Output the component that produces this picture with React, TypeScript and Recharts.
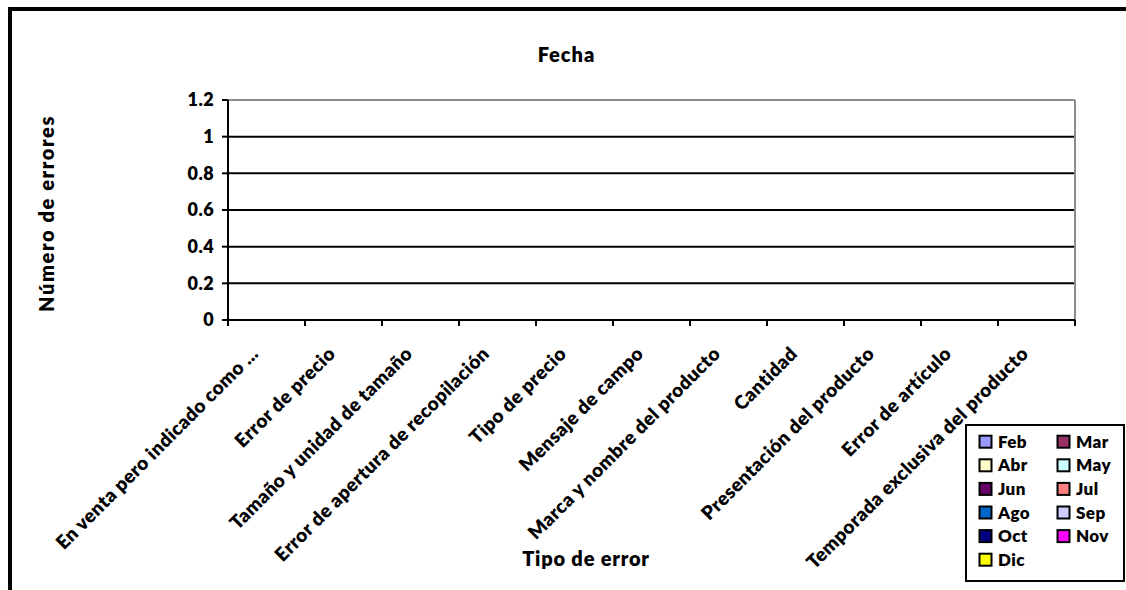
import { Bar, BarChart, CartesianGrid, ReferenceLine, XAxis, YAxis } from "recharts";

const categories = [
  "En venta pero indicado como ...",
  "Error de precio",
  "Tamaño y unidad de tamaño",
  "Error de apertura de recopilación",
  "Tipo de precio",
  "Mensaje de campo",
  "Marca y nombre del producto",
  "Cantidad",
  "Presentación del producto",
  "Error de artículo",
  "Temporada exclusiva del producto",
];

const months = ["Feb", "Mar", "Abr", "May", "Jun", "Jul", "Ago", "Sep", "Oct", "Nov", "Dic"];
const monthColors = [
  "#9999FF", "#993366", "#FFFFCC", "#CCFFFF", "#660066", "#FF8080",
  "#0066CC", "#CCCCFF", "#000080", "#FF00FF", "#FFFF00",
];

// every cell in the source sheet is empty
const feb = [null, null, null, null, null, null, null, null, null, null, null];
const mar = [null, null, null, null, null, null, null, null, null, null, null];
const abr = [null, null, null, null, null, null, null, null, null, null, null];
const may = [null, null, null, null, null, null, null, null, null, null, null];
const jun = [null, null, null, null, null, null, null, null, null, null, null];
const jul = [null, null, null, null, null, null, null, null, null, null, null];
const ago = [null, null, null, null, null, null, null, null, null, null, null];
const sep = [null, null, null, null, null, null, null, null, null, null, null];
const oct = [null, null, null, null, null, null, null, null, null, null, null];
const nov = [null, null, null, null, null, null, null, null, null, null, null];
const dic = [null, null, null, null, null, null, null, null, null, null, null];
const monthValues = [feb, mar, abr, may, jun, jul, ago, sep, oct, nov, dic];

const yTicks = [0, 0.2, 0.4, 0.6, 0.8, 1, 1.2];

const data = categories.map((name, i) => {
  const row: Record<string, string | number | null> = { name };
  months.forEach((m, j) => {
    row[m] = monthValues[j][i];
  });
  return row;
});

const FONT = "Lato, 'Noto Sans', sans-serif";
const W = 1126;
const H = 590;
const MARGIN = { top: 100, right: 51, left: 168, bottom: 40 };
const Y_AXIS_W = 60;
const PLOT_W = W - MARGIN.left - Y_AXIS_W - MARGIN.right;
const BAND = PLOT_W / categories.length;

if (typeof document !== "undefined") {
  document.body.style.margin = "0";
  document.body.style.overflow = "hidden";
  document.documentElement.style.overflow = "hidden";
}

// Excel puts the x tick marks between categories, so draw them here
function CategoryTick(props: any) {
  const { x, y, payload, index } = props;
  const axisY = y - 8;
  const last = index === categories.length - 1;
  return (
    <g>
      <line x1={x - BAND / 2} x2={x - BAND / 2} y1={axisY} y2={axisY + 6} stroke="#000" strokeWidth={2} />
      {last && (
        <line x1={x + BAND / 2} x2={x + BAND / 2} y1={axisY} y2={axisY + 6} stroke="#000" strokeWidth={2} />
      )}
      <g transform={`translate(${x - 7},${y + 27})`}>
        <text
          textAnchor="end"
          transform="rotate(-45)"
          fill="#000"
          fontFamily={FONT}
          fontWeight={800}
          fontSize={19}
          letterSpacing={0.4}
        >
          {payload.value}
        </text>
      </g>
    </g>
  );
}

export default function App() {
  return (
    <div style={{ position: "relative", width: W, height: H, overflow: "hidden", fontFamily: FONT }}>
      <div
        style={{
          position: "absolute",
          left: 8,
          top: 7,
          width: W + 40,
          height: H + 40,
          borderTop: "4px solid #000",
          borderLeft: "4px solid #000",
        }}
      />
      <div style={{ position: "absolute", left: 0, top: 0 }}>
        <BarChart width={W} height={H} data={data} margin={MARGIN} barCategoryGap="20%">
          <CartesianGrid vertical={false} stroke="#000" strokeWidth={2} />
          <CartesianGrid
            horizontal={false}
            verticalCoordinatesGenerator={({ offset }: any) => [offset.left + offset.width]}
            stroke="#8c8c8c"
            strokeWidth={2}
          />
          <XAxis
            dataKey="name"
            interval={0}
            height={230}
            tick={<CategoryTick />}
            tickSize={6}
            axisLine={{ stroke: "#000", strokeWidth: 2 }}
            tickLine={false}
          />
          <YAxis
            width={Y_AXIS_W}
            domain={[0, 1.2]}
            allowDataOverflow
            ticks={yTicks}
            interval={0}
            tickSize={6}
            tickMargin={8}
            tickFormatter={(v) => String(v)}
            tick={{ fill: "#000", fontFamily: FONT, fontWeight: 800, fontSize: 18, letterSpacing: 0.4 }}
            axisLine={{ stroke: "#000", strokeWidth: 2 }}
            tickLine={{ stroke: "#000", strokeWidth: 2 }}
          />
          <ReferenceLine y={1.2} stroke="#8c8c8c" strokeWidth={2} />
          {months.map((m, j) => (
            <Bar
              key={m}
              dataKey={m}
              fill={monthColors[j]}
              stroke="#000"
              isAnimationActive={false}
            />
          ))}
        </BarChart>
      </div>
      <svg
        width={W}
        height={H}
        style={{ position: "absolute", left: 0, top: 0, pointerEvents: "none" }}
        fontFamily={FONT}
        fontWeight={800}
      >
        <text x={566.5} y={62} textAnchor="middle" fontSize={20} letterSpacing={1}>
          Fecha
        </text>
        <text
          x={54}
          y={213.5}
          textAnchor="middle"
          fontSize={20}
          letterSpacing={1.6}
          transform="rotate(-90 54 213.5)"
        >
          Número de errores
        </text>
        <text x={586} y={566} textAnchor="middle" fontSize={20} letterSpacing={0.8}>
          Tipo de error
        </text>
        <rect x={966} y={425} width={158} height={156} fill="#fff" stroke="#000" strokeWidth={2} />
        {months.map((m, j) => {
          const col = j % 2;
          const row = Math.floor(j / 2);
          const cy = 441.7 + row * 23.6;
          const sx = col === 0 ? 979.5 : 1057.5;
          return (
            <g key={m}>
              <rect x={sx} y={cy - 6} width={12} height={12} fill={monthColors[j]} stroke="#000" strokeWidth={2} />
              <text x={sx + 18.5} y={cy + 6} fontSize={17} letterSpacing={0.4}>
                {m}
              </text>
            </g>
          );
        })}
      </svg>
    </div>
  );
}
